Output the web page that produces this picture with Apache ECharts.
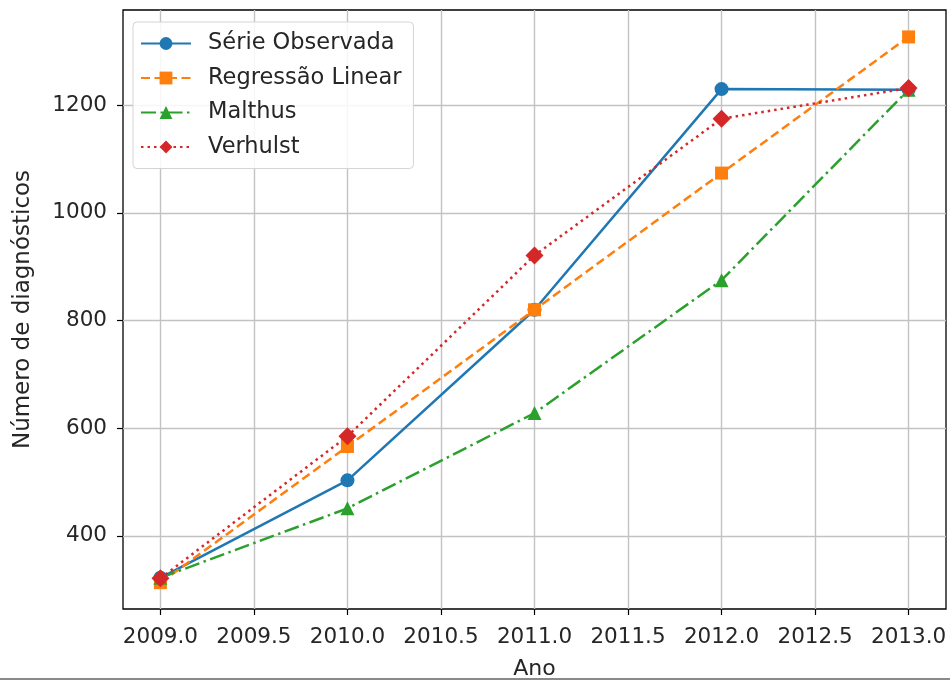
<!DOCTYPE html>
<html>
<head>
<meta charset="utf-8">
<script src="https://cdn.jsdelivr.net/npm/echarts@6/dist/echarts.min.js"></script>
<style>
html,body{margin:0;padding:0;background:#fff;}
#chart{width:950px;height:680px;}
</style>
</head>
<body>
<div id="chart"></div>
<script>
var years = [2009, 2010, 2011, 2012, 2013];
var observed = [322, 503, 820, 1230, 1229];
var regression = [313, 566, 820, 1074, 1327];
var malthus = [322, 451, 628, 875, 1229];
var verhulst = [321, 585, 921, 1175, 1232];
var xTicks = [2009.0, 2009.5, 2010.0, 2010.5, 2011.0, 2011.5, 2012.0, 2012.5, 2013.0];
var yTicks = [400, 600, 800, 1000, 1200];
var seriesNames = ['Série Observada', 'Regressão Linear', 'Malthus', 'Verhulst'];

function pairs(vals) {
  return years.map(function (y, i) { return [y, vals[i]]; });
}

var FONT = 'DejaVu Sans';
var chart = echarts.init(document.getElementById('chart'), null, {renderer: 'canvas'});

var option = {
  animation: false,
  backgroundColor: '#ffffff',
  textStyle: {fontFamily: FONT},
  grid: {
    left: 123, right: 4, top: 10, bottom: 71,
    containLabel: false, outerBoundsMode: 'none',
    show: true, borderColor: '#000', borderWidth: 1.3, backgroundColor: 'transparent'
  },
  legend: {
    orient: 'vertical',
    left: 133, top: 22,
    itemWidth: 50, itemHeight: 16, itemGap: 11.5,
    padding: [10, 12, 10, 7],
    backgroundColor: 'rgba(255,255,255,0.85)',
    borderColor: '#d4d4d4', borderWidth: 1, borderRadius: 4,
    textStyle: {fontFamily: FONT, fontSize: 22.5, color: '#262626', lineHeight: 22, padding: [0, 0, 0, 12]},
    data: seriesNames
  },
  xAxis: {
    type: 'value',
    min: 2008.8, max: 2013.2,
    name: 'Ano', nameLocation: 'middle', nameGap: 49,
    nameTextStyle: {fontFamily: FONT, fontSize: 22, color: '#262626'},
    axisLine: {show: false},
    axisTick: {show: true, customValues: xTicks, length: 6, lineStyle: {color: '#000', width: 1.2}},
    axisLabel: {customValues: xTicks, margin: 17, fontFamily: FONT, fontSize: 21.5, color: '#262626',
      formatter: function (v) { return Number(v).toFixed(1); }},
    splitLine: {show: true, lineStyle: {color: '#c2c2c2', width: 1.4}}
  },
  yAxis: {
    type: 'value',
    min: 264, max: 1377,
    name: 'Número de diagnósticos', nameLocation: 'middle', nameGap: 88,
    nameTextStyle: {fontFamily: FONT, fontSize: 23, color: '#262626'},
    axisLine: {show: false},
    axisTick: {show: true, customValues: yTicks, length: 6, lineStyle: {color: '#000', width: 1.2}},
    axisLabel: {customValues: yTicks, margin: 16, fontFamily: FONT, fontSize: 21.5, color: '#262626',
      formatter: function (v) { return String(v); }},
    splitLine: {show: true, lineStyle: {color: '#c2c2c2', width: 1.4}}
  },
  series: [
    {
      name: seriesNames[0], type: 'line', data: pairs(observed),
      symbol: 'circle', symbolSize: 14,
      lineStyle: {color: '#1f77b4', width: 2.5, type: 'solid'},
      itemStyle: {color: '#1f77b4'}
    },
    {
      name: seriesNames[1], type: 'line', data: pairs(regression),
      symbol: 'rect', symbolSize: 13,
      lineStyle: {color: '#ff7f0e', width: 2.5, type: [9, 4.5]},
      itemStyle: {color: '#ff7f0e'}
    },
    {
      name: seriesNames[2], type: 'line', data: pairs(malthus),
      symbol: 'triangle', symbolSize: 14,
      lineStyle: {color: '#2ca02c', width: 2.5, type: [15, 4.5, 2.5, 4.5]},
      itemStyle: {color: '#2ca02c'}
    },
    {
      name: seriesNames[3], type: 'line', data: pairs(verhulst),
      symbol: 'diamond', symbolSize: 18,
      lineStyle: {color: '#d62728', width: 2.5, type: [2.5, 4]},
      itemStyle: {color: '#d62728'}
    }
  ],
  graphic: [
    {type: 'rect', left: 0, top: 678, shape: {width: 950, height: 2}, style: {fill: '#8a8a8a'}, silent: true}
  ]
};
chart.setOption(option);
</script>
</body>
</html>
